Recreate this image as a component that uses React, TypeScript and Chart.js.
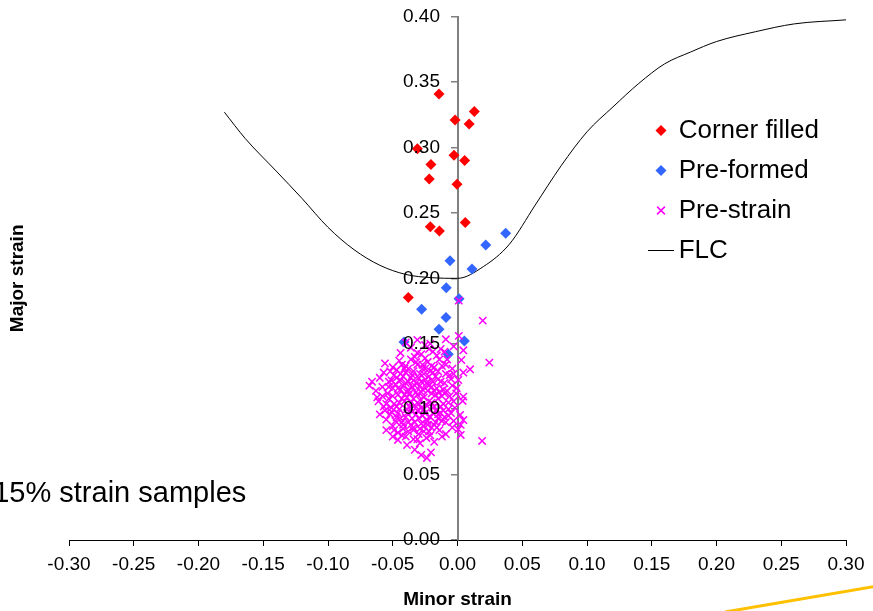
import React, { useEffect, useRef } from 'react';
import { Chart, registerables } from 'chart.js';

Chart.register(...registerables);

const FONT = "'Liberation Sans', Arial, Helvetica, sans-serif";

const xTickLabels = ['-0.30', '-0.25', '-0.20', '-0.15', '-0.10', '-0.05', '0.00', '0.05', '0.10', '0.15', '0.20', '0.25', '0.30'];
const yTickLabels = ['0.00', '0.05', '0.10', '0.15', '0.20', '0.25', '0.30', '0.35', '0.40'];

const seriesNames = ['Corner filled', 'Pre-formed', 'Pre-strain', 'FLC'];
const xTitle = 'Minor strain';
const yTitle = 'Major strain';
const noteText = '15% strain samples';

const cornerFilled: [number, number][] = [
  [-0.0143, 0.341], [-0.0019, 0.321], [0.013, 0.3275], [0.009, 0.318], [-0.031, 0.299],
  [-0.0027, 0.294], [0.0055, 0.29], [-0.0205, 0.287], [-0.0218, 0.276], [-0.0004, 0.272],
  [0.006, 0.2426], [-0.021, 0.2395], [-0.014, 0.2362], [-0.038, 0.1853],
];

const preFormed: [number, number][] = [
  [0.0372, 0.2345], [0.0218, 0.2255], [-0.0058, 0.2135], [0.0112, 0.2072], [-0.0087, 0.1929],
  [0.0012, 0.1845], [-0.0277, 0.1764], [-0.0089, 0.17], [-0.0143, 0.1611], [0.0053, 0.1521],
  [-0.0071, 0.142], [-0.0413, 0.1514],
];

const preStrain: [number, number][] = [
  [0.0195, 0.1677], [0.001, 0.183],
  [-0.040, 0.151], [-0.031, 0.153], [-0.021, 0.150], [-0.009, 0.1534], [0.001, 0.156], [0.0045, 0.145],
  [-0.044, 0.143], [-0.036, 0.147], [-0.028, 0.142], [-0.022, 0.146], [-0.016, 0.141], [-0.010, 0.144], [-0.003, 0.148], [0.003, 0.1376], [-0.033, 0.140],
  [-0.056, 0.135], [-0.050, 0.132], [-0.045, 0.137], [-0.040, 0.133], [-0.036, 0.138], [-0.031, 0.134], [-0.027, 0.131], [-0.023, 0.136],
  [-0.018, 0.132], [-0.014, 0.138], [-0.009, 0.134], [-0.004, 0.131], [0.0097, 0.1305], [0.0246, 0.1356], [-0.047, 0.130], [-0.025, 0.139],
  [-0.057, 0.128], [-0.066, 0.121], [-0.060, 0.124], [-0.053, 0.121], [-0.049, 0.126], [-0.044, 0.122], [-0.040, 0.128], [-0.036, 0.124],
  [-0.032, 0.120], [-0.029, 0.127], [-0.025, 0.123], [-0.021, 0.129], [-0.017, 0.125], [-0.013, 0.121], [-0.009, 0.127], [-0.005, 0.123],
  [0.0045, 0.128], [0.0006, 0.1223], [-0.038, 0.121], [-0.019, 0.121], [-0.052, 0.129],
  [-0.068, 0.118], [-0.063, 0.114], [-0.058, 0.117], [-0.054, 0.112], [-0.050, 0.116], [-0.046, 0.111], [-0.042, 0.118], [-0.039, 0.113],
  [-0.035, 0.117], [-0.031, 0.111], [-0.027, 0.115], [-0.023, 0.119], [-0.020, 0.112], [-0.016, 0.116], [-0.012, 0.110], [-0.008, 0.114],
  [-0.004, 0.118], [-0.0006, 0.116], [0.0045, 0.1096], [-0.044, 0.115], [-0.029, 0.118], [-0.014, 0.113],
  [-0.061, 0.106], [-0.057, 0.102], [-0.053, 0.108], [-0.049, 0.104], [-0.045, 0.100], [-0.041, 0.106], [-0.037, 0.102], [-0.034, 0.108],
  [-0.030, 0.104], [-0.026, 0.100], [-0.022, 0.106], [-0.018, 0.102], [-0.015, 0.108], [-0.011, 0.104], [-0.007, 0.100], [-0.003, 0.106],
  [0.004, 0.1063], [-0.039, 0.109], [-0.024, 0.103], [-0.051, 0.101],
  [-0.060, 0.096], [-0.055, 0.092], [-0.051, 0.098], [-0.047, 0.094], [-0.043, 0.090], [-0.039, 0.097], [-0.035, 0.093], [-0.031, 0.099],
  [-0.027, 0.095], [-0.023, 0.091], [-0.019, 0.097], [-0.015, 0.093], [-0.011, 0.099], [-0.007, 0.095], [-0.003, 0.091], [0.002, 0.0956],
  [0.0045, 0.0917], [-0.033, 0.090], [-0.021, 0.094],
  [-0.055, 0.084], [-0.050, 0.087], [-0.046, 0.082], [-0.042, 0.088], [-0.038, 0.083], [-0.034, 0.086], [-0.030, 0.081], [-0.026, 0.087],
  [-0.022, 0.083], [-0.018, 0.088], [-0.014, 0.084], [-0.009, 0.081], [-0.004, 0.086], [0.0025, 0.088], [0.0006, 0.0846], [0.0025, 0.0803],
  [-0.050, 0.079], [-0.046, 0.0765], [-0.039, 0.0726], [-0.034, 0.077], [-0.029, 0.074], [-0.024, 0.078], [-0.018, 0.075], [-0.012, 0.079],
  [0.019, 0.0757],
  [-0.028, 0.065], [-0.0236, 0.0627], [-0.0205, 0.067], [-0.033, 0.069],
  [-0.042, 0.125], [-0.034, 0.129], [-0.028, 0.121], [-0.038, 0.115], [-0.032, 0.113], [-0.026, 0.109], [-0.020, 0.117], [-0.043, 0.108],
  [-0.036, 0.105], [-0.028, 0.101], [-0.020, 0.105], [-0.016, 0.099], [-0.040, 0.094], [-0.032, 0.096], [-0.024, 0.092], [-0.017, 0.090],
  [-0.012, 0.091], [-0.046, 0.097], [-0.048, 0.119], [-0.030, 0.124], [-0.022, 0.125], [-0.010, 0.120], [-0.006, 0.110], [-0.013, 0.102],
  [-0.056, 0.099], [-0.058, 0.110], [-0.025, 0.131], [-0.034, 0.084], [-0.028, 0.089], [-0.040, 0.079],
  [-0.041, 0.131], [-0.035, 0.126], [-0.027, 0.134], [-0.019, 0.128], [-0.012, 0.133], [-0.006, 0.126], [-0.047, 0.124], [-0.053, 0.117],
  [-0.045, 0.105], [-0.039, 0.100], [-0.033, 0.103], [-0.029, 0.107], [-0.023, 0.114], [-0.017, 0.111], [-0.011, 0.115], [-0.007, 0.105],
  [-0.002, 0.101], [-0.048, 0.091], [-0.042, 0.085], [-0.036, 0.088], [-0.026, 0.083], [-0.020, 0.086], [-0.015, 0.096], [-0.009, 0.090],
  [-0.031, 0.143], [-0.019, 0.144], [-0.025, 0.149], [-0.013, 0.146], [-0.052, 0.096], [-0.062, 0.109], [-0.037, 0.112], [-0.033, 0.118],
  [-0.024, 0.120], [-0.015, 0.123], [-0.043, 0.134], [-0.050, 0.110],
  [-0.044, 0.127], [-0.038, 0.131], [-0.032, 0.136], [-0.026, 0.127], [-0.020, 0.133], [-0.015, 0.129], [-0.008, 0.138], [-0.003, 0.127],
  [-0.051, 0.122], [-0.046, 0.116], [-0.040, 0.120], [-0.034, 0.122], [-0.028, 0.113], [-0.022, 0.118], [-0.018, 0.114], [-0.010, 0.112],
  [-0.055, 0.104], [-0.047, 0.102], [-0.041, 0.111], [-0.035, 0.098], [-0.030, 0.093], [-0.025, 0.097], [-0.019, 0.101], [-0.013, 0.097],
  [-0.005, 0.097], [-0.044, 0.093], [-0.038, 0.090], [-0.029, 0.085], [-0.023, 0.088], [-0.016, 0.086], [-0.010, 0.094], [-0.001, 0.112],
  [-0.049, 0.084], [-0.043, 0.080], [-0.031, 0.077], [-0.021, 0.080],
];

const flcX = [-0.18, -0.164, -0.14, -0.12, -0.10, -0.08, -0.06, -0.04, -0.02, 0.0, 0.02, 0.04, 0.06, 0.08, 0.10, 0.12, 0.14, 0.16, 0.18, 0.20, 0.23, 0.26, 0.30];
const flcY = [0.327, 0.307, 0.282, 0.261, 0.239, 0.222, 0.210, 0.203, 0.2005, 0.200, 0.209, 0.226, 0.256, 0.286, 0.312, 0.331, 0.349, 0.364, 0.373, 0.381, 0.3885, 0.3945, 0.3976];

export default function App() {
  const ref = useRef<HTMLCanvasElement>(null);

  useEffect(() => {
    const canvas = ref.current;
    if (!canvas) return;

    Chart.defaults.font.family = FONT;

    const flcImg = document.createElement('canvas');
    flcImg.width = 26;
    flcImg.height = 1;
    const fctx = flcImg.getContext('2d');
    if (fctx) {
      fctx.fillStyle = '#000000';
      fctx.fillRect(0, 0, 26, 1);
    }

    const legendPos = {
      id: 'legendPos',
      afterLayout(chart: any) {
        const lg = chart.legend;
        if (!lg) return;
        lg.left = 642.3;
        lg.top = 103.5;
        lg.right = 870;
        lg.bottom = 420;
      },
    };

    const annotate = {
      id: 'annotate',
      afterDraw(chart: any) {
        const ctx = chart.ctx;
        ctx.save();
        ctx.font = `29px ${FONT}`;
        ctx.fillStyle = '#000000';
        ctx.textAlign = 'left';
        ctx.textBaseline = 'alphabetic';
        ctx.fillText(noteText, -6.8, 501.7);
        ctx.strokeStyle = '#FFC000';
        ctx.lineWidth = 3;
        ctx.beginPath();
        ctx.moveTo(725, 612);
        ctx.lineTo(874, 586.5);
        ctx.stroke();
        ctx.restore();
      },
    };

    const chart = new Chart(canvas, {
      type: 'scatter',
      data: {
        datasets: [
          {
            label: seriesNames[0],
            data: cornerFilled.map(([x, y]) => ({ x, y })),
            pointStyle: 'rectRot',
            pointRadius: 5.5,
            pointHoverRadius: 5.5,
            backgroundColor: '#FF0000',
            borderColor: '#FF0000',
            borderWidth: 0,
            yAxisID: 'y',
            xAxisID: 'x',
          },
          {
            label: seriesNames[1],
            data: preFormed.map(([x, y]) => ({ x, y })),
            pointStyle: 'rectRot',
            pointRadius: 5.5,
            pointHoverRadius: 5.5,
            backgroundColor: '#3366FF',
            borderColor: '#3366FF',
            borderWidth: 0,
            yAxisID: 'y',
            xAxisID: 'x',
          },
          {
            label: seriesNames[2],
            data: preStrain.map(([x, y]) => ({ x, y })),
            pointStyle: 'crossRot',
            pointRadius: 5.2,
            pointHoverRadius: 5.2,
            backgroundColor: '#FF00FF',
            borderColor: '#FF00FF',
            borderWidth: 1.5,
            order: -1,
            yAxisID: 'y',
            xAxisID: 'x',
          },
          {
            label: seriesNames[3],
            data: flcX.map((x, i) => ({ x, y: flcY[i] })),
            showLine: true,
            borderColor: '#000000',
            backgroundColor: '#000000',
            borderWidth: 1,
            pointRadius: 0,
            pointHoverRadius: 0,
            cubicInterpolationMode: 'monotone',
            order: 1,
            yAxisID: 'y',
            xAxisID: 'x',
          } as any,
        ],
      },
      options: {
        responsive: false,
        animation: false,
        devicePixelRatio: 1,
        events: [],
        layout: { padding: { left: 0, top: 16.7, right: 27, bottom: 0 } },
        plugins: {
          tooltip: { enabled: false },
          legend: {
            display: true,
            position: 'chartArea',
            fullSize: false,
            align: 'start',
            labels: {
              usePointStyle: true,
              boxWidth: 9.4,
              boxHeight: 7.8,
              padding: 14,
              color: '#000000',
              font: { family: FONT, size: 26 },
              sort: (a: any, b: any) => a.datasetIndex - b.datasetIndex,
              generateLabels: (ch: any) => {
                const items = (Chart.defaults.plugins.legend.labels as any).generateLabels(ch);
                items.forEach((it: any) => {
                  if (it.text === seriesNames[3]) it.pointStyle = flcImg;
                });
                return items;
              },
            },
          } as any,
        },
        scales: {
          x: {
            type: 'linear',
            axis: 'x',
            position: 'bottom',
            min: -0.3,
            max: 0.3,
            ticks: {
              stepSize: 0.05,
              autoSkip: false,
              maxRotation: 0,
              padding: 7,
              color: '#000000',
              font: { family: FONT, size: 19 },
              callback: (_v: any, i: number) => xTickLabels[i],
            },
            grid: { display: true, drawOnChartArea: false, drawTicks: true, tickLength: 6, color: '#000000', lineWidth: 1 },
            border: { display: true, color: '#000000', width: 1 },
            title: {
              display: true,
              text: xTitle,
              color: '#000000',
              font: { family: FONT, size: 19, weight: 'bold' },
              padding: { top: 0, bottom: 0 },
            },
            afterFit: (s: any) => {
              s.height = 71;
              s.paddingLeft = 0;
              s.paddingRight = 0;
            },
          },
          y: {
            type: 'linear',
            axis: 'y',
            position: 'center',
            min: 0,
            max: 0.4,
            ticks: {
              z: 1,
              stepSize: 0.05,
              autoSkip: false,
              padding: 11.5,
              color: '#000000',
              font: { family: FONT, size: 19 },
              callback: (_v: any, i: number) => yTickLabels[i],
            },
            grid: { display: true, drawOnChartArea: false, drawTicks: true, tickLength: 6, color: '#808080', lineWidth: 1.5 },
            border: { display: true, color: '#808080', width: 2 },
            afterFit: (s: any) => {
              s.paddingTop = 0;
              s.paddingBottom = 0;
            },
          },
          yTitle: {
            type: 'linear',
            axis: 'y',
            position: 'left',
            display: true,
            min: 0,
            max: 1,
            ticks: { display: false },
            grid: { display: false, drawTicks: false },
            border: { display: false },
            title: {
              display: true,
              text: yTitle,
              color: '#000000',
              font: { family: FONT, size: 19, weight: 'bold' },
              padding: { top: 6, bottom: 0 },
            },
            afterFit: (s: any) => {
              s.width = 69;
              s.paddingTop = 0;
              s.paddingBottom = 0;
            },
          },
        } as any,
      },
      plugins: [legendPos, annotate],
    } as any);

    return () => {
      chart.destroy();
    };
  }, []);

  return (
    <div style={{ position: 'absolute', left: 0, top: 0, width: 873, height: 611, background: '#ffffff' }}>
      <canvas ref={ref} width={873} height={611} style={{ display: 'block', width: 873, height: 611 }} />
    </div>
  );
}
